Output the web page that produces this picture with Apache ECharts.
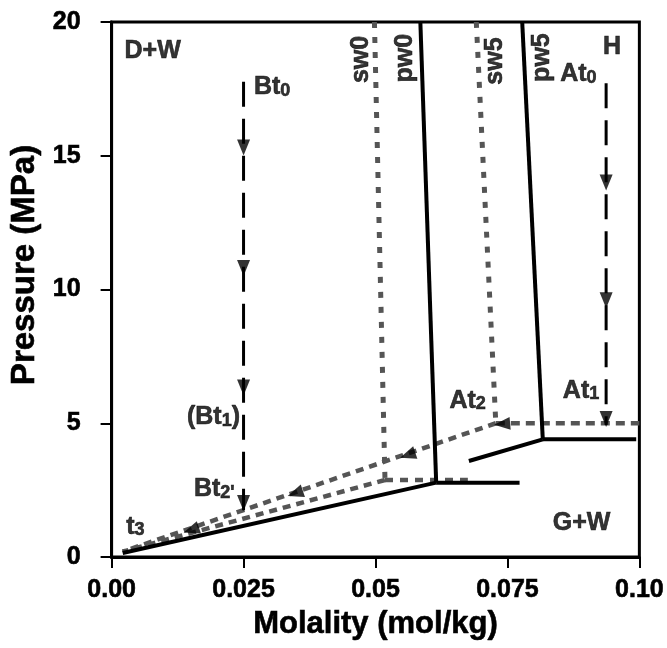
<!DOCTYPE html>
<html>
<head>
<meta charset="utf-8">
<script src="https://cdn.jsdelivr.net/npm/echarts@6/dist/echarts.min.js"></script>
<style>
html,body{margin:0;padding:0;background:#fff;}
#chart{width:667px;height:648px;}
</style>
</head>
<body>
<div id="chart"></div>
<script>
// ---- data (molality mol/kg, pressure MPa) ----
var xTickLabels = ['0.00', '0.025', '0.05', '0.075', '0.10'];
var yTicks = [0, 5, 10, 15, 20];

// solid black boundaries
var pw0Line = [[0.0585, 20], [0.0615, 2.78]];
var pw0Flat = [[0.0615, 2.78], [0.0773, 2.78]];
var baseLine = [[0.0021, 0.15], [0.0615, 2.78]];
var pw5Line = [[0.0778, 20], [0.0817, 4.4]];
var pw5Flat = [[0.0817, 4.4], [0.0994, 4.4]];
var pw5Foot = [[0.0677, 3.59], [0.0817, 4.4]];

// grey dotted boundaries
var sw0Line = [[0.0498, 20], [0.0518, 2.88]];
var sw0Diag = [[0.0518, 2.88], [0.0021, 0.2]];
var sw0Flat = [[0.0518, 2.88], [0.0675, 2.88]];
var sw5Line = [[0.0691, 20], [0.0728, 5.0]];
var sw5Diag = [[0.0728, 5.0], [0.0021, 0.2]];
var sw5Flat = [[0.0728, 5.0], [0.1, 5.0]];

// dashed black paths
var btPath = [[0.025, 17.77], [0.025, 1.75]];
var atPath = [[0.0937, 17.71], [0.0937, 4.93]];

// arrowheads
var downArrows = [[0.025, 15.31], [0.025, 10.8], [0.025, 6.34], [0.025, 2.02],
                  [0.0937, 14.0], [0.0937, 9.6], [0.0937, 5.16]];
var diagArrows = [[0.0561, 3.81], [0.0348, 2.38], [0.0151, 1.01]];
var leftArrows = [[0.0740, 4.97]];

// annotations
var plainLabels = [
  {text: 'D+W', at: [0.00244, 19.38]},
  {text: 'H', at: [0.0931, 19.53]},
  {text: 'G+W', at: [0.0836, 1.73]}
];
var subLabels = [
  {text: '{a|Bt}{s|0}', at: [0.02696, 18.02]},
  {text: '{a|At}{s|0}', at: [0.0850, 18.52]},
  {text: '{a|At}{s|1}', at: [0.0855, 6.68]},
  {text: '{a|At}{s|2}', at: [0.0640, 6.30]},
  {text: '{a|(Bt}{s|1}{a|)}', at: [0.01428, 5.69]},
  {text: "{a|Bt}{s|2'}", at: [0.0156, 3.0]},
  {text: '{a|t}{s|3}', at: [0.00276, 1.6]}
];
var curveLabels = [
  {text: 'sw0', at: [0.0473, 18.6]},
  {text: 'pw0', at: [0.0557, 18.65]},
  {text: 'sw5', at: [0.0726, 18.54]},
  {text: 'pw5', at: [0.0816, 18.67]}
];

var FONT = 'Liberation Sans';
var FS = 25;
var GREY = '#555555';
var HEAVY = {textBorderColor: '#000', textBorderWidth: 0.6};

function lineSeries(data, color, width, type) {
  return {
    type: 'line', data: data, showSymbol: false, symbol: 'none', silent: true,
    animation: false, z: 3,
    lineStyle: {color: color, width: width, type: type, cap: 'butt'}
  };
}

function txt(size, extra) {
  var o = {fontFamily: FONT, fontSize: size, fontWeight: 'bold', color: '#000',
    textBorderColor: HEAVY.textBorderColor, textBorderWidth: HEAVY.textBorderWidth};
  for (var k in extra) { o[k] = extra[k]; }
  return o;
}

var richStyles = {
  a: txt(FS, {lineHeight: 25, verticalAlign: 'top'}),
  s: txt(18, {lineHeight: 18, verticalAlign: 'bottom', padding: [11, 0, 0, 0]})
};

var series = [
  lineSeries(sw0Line, GREY, 5, [6, 9]),
  lineSeries(sw0Diag, GREY, 4.5, [8, 6]),
  lineSeries(sw0Flat, GREY, 4.5, [8, 7]),
  lineSeries(sw5Line, GREY, 5, [6, 9]),
  lineSeries(sw5Diag, GREY, 4.5, [8, 6]),
  lineSeries(sw5Flat, GREY, 4.5, [9, 6]),
  lineSeries(pw0Line, '#000', 4, 'solid'),
  lineSeries(pw0Flat, '#000', 4, 'solid'),
  lineSeries(baseLine, '#000', 4, 'solid'),
  lineSeries(pw5Line, '#000', 4, 'solid'),
  lineSeries(pw5Flat, '#000', 4, 'solid'),
  lineSeries(pw5Foot, '#000', 4, 'solid'),
  lineSeries(btPath, '#000', 3, [25, 12]),
  lineSeries(atPath, '#000', 3, [25, 12]),
  {
    type: 'scatter', silent: true, animation: false, z: 5,
    symbol: 'triangle', symbolSize: [13, 16], symbolRotate: 180,
    itemStyle: {color: '#000'},
    data: downArrows
  },
  {
    type: 'scatter', silent: true, animation: false, z: 5,
    symbol: 'triangle', symbolSize: [13, 16], symbolRotate: 108.8,
    itemStyle: {color: '#000'},
    data: diagArrows
  },
  {
    type: 'scatter', silent: true, animation: false, z: 5,
    symbol: 'triangle', symbolSize: [13, 16], symbolRotate: 95,
    itemStyle: {color: '#000'},
    data: leftArrows
  },
  {
    type: 'scatter', silent: true, animation: false, z: 6, symbolSize: 0,
    data: plainLabels.map(function (d) {
      return {value: d.at, label: {show: true, formatter: d.text}};
    }),
    label: txt(FS, {show: true, position: [0, 0], align: 'left', verticalAlign: 'top', lineHeight: 25})
  },
  {
    type: 'scatter', silent: true, animation: false, z: 6, symbolSize: 0,
    data: subLabels.map(function (d) {
      return {value: d.at, label: {show: true, formatter: d.text}};
    }),
    label: {show: true, position: [0, 0], align: 'left', verticalAlign: 'top', rich: richStyles}
  },
  {
    type: 'scatter', silent: true, animation: false, z: 6, symbolSize: 0,
    data: curveLabels.map(function (d) {
      return {value: d.at, label: {show: true, formatter: d.text}};
    }),
    label: txt(FS, {show: true, position: [0, 0], align: 'center', verticalAlign: 'middle', rotate: 90, lineHeight: 25})
  }
];

var chart = echarts.init(document.getElementById('chart'), null, {renderer: 'canvas'});
chart.setOption({
  animation: false,
  backgroundColor: '#fff',
  grid: {left: 107, right: 27, top: 22, bottom: 91, show: true, borderColor: '#000', borderWidth: 3, backgroundColor: 'transparent'},
  xAxis: {
    type: 'value', min: 0, max: 0.1, interval: 0.025,
    name: 'Molality (mol/kg)', nameLocation: 'middle', nameGap: 41,
    nameTextStyle: txt(31, {lineHeight: 31}),
    axisLine: {show: true, onZero: false, lineStyle: {color: '#000', width: 3}},
    axisTick: {show: true, inside: false, length: 11, lineStyle: {color: '#000', width: 2}},
    axisLabel: txt(FS, {margin: 21,
      formatter: function (v) { return xTickLabels[Math.round(v / 0.025)]; }}),
    splitLine: {show: false}
  },
  yAxis: {
    type: 'value', min: yTicks[0], max: yTicks[yTicks.length - 1], interval: 5,
    name: 'Pressure (MPa)', nameLocation: 'middle', nameGap: 67, nameRotate: 90,
    nameTextStyle: txt(33, {lineHeight: 33, padding: [0, 0, 0, 49]}),
    axisLine: {show: true, onZero: false, lineStyle: {color: '#000', width: 3}},
    axisTick: {show: true, inside: false, length: 11, lineStyle: {color: '#000', width: 2}},
    axisLabel: txt(FS, {margin: 31}),
    splitLine: {show: false}
  },
  series: series
});
</script>
</body>
</html>
